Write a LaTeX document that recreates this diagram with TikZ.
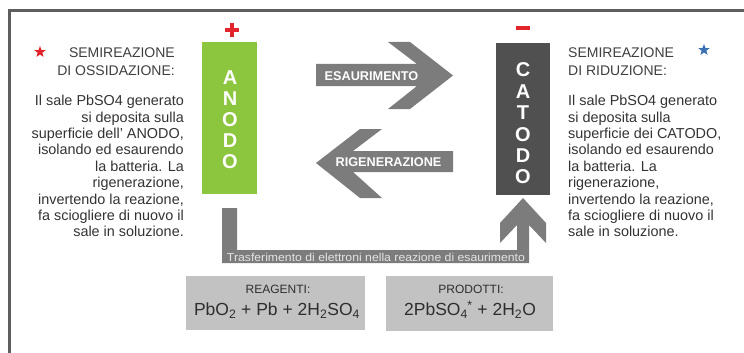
\documentclass[tikz,border=0pt]{standalone}
\usepackage{fontspec}
\usepackage{graphicx}
\setmainfont{Liberation Sans}
\usetikzlibrary{shapes.geometric}
\definecolor{anodegreen}{HTML}{8CC63F}
\definecolor{catodegray}{HTML}{505050}
\definecolor{arrowgray}{HTML}{7C7C7C}
\definecolor{boxgray}{HTML}{C2C2C2}
\definecolor{textgray}{HTML}{333333}
\definecolor{headgray}{HTML}{3F3F3F}
\definecolor{boxtext}{HTML}{2E2E2E}
\definecolor{signred}{HTML}{E2252B}
\definecolor{starblue}{HTML}{3B70B2}
\definecolor{framegray}{HTML}{5E5E5E}
\definecolor{bartext}{HTML}{E4E4E4}
\begin{document}
\begin{tikzpicture}[x=1pt,y=-1pt,
  body/.style={inner sep=0pt, text=textgray, font=\fontsize{14.4}{16.4}\selectfont},
  head/.style={inner sep=0pt, text=headgray, font=\fontsize{14}{18}\selectfont},
  elec/.style={inner sep=0pt, text=white, font=\fontsize{20}{21}\selectfont\bfseries, align=center},
  arrowlabel/.style={inner sep=0pt, text=white, font=\fontsize{12.7}{14}\selectfont\bfseries},
  bigarrow/.style={fill=arrowgray},
  chembox/.style={fill=boxgray, inner sep=0pt},
  boxlabel/.style={inner sep=0pt, text=boxtext, font=\fontsize{12}{14}\selectfont},
  formula/.style={inner sep=0pt, text=boxtext, font=\fontsize{17.5}{20}\selectfont},
  starmark/.style={star, star points=5, star point ratio=2.4, inner sep=0pt, minimum size=12pt}
]
\useasboundingbox (0,0) rectangle (744,353);
\fill[white] (0,0) rectangle (744,353);
% frame
\draw[framegray, line width=3pt] (9.5,353) -- (9.5,11) -- (744,11);

% electrodes
\node[fill=anodegreen, minimum width=55pt, minimum height=152pt, inner sep=0pt] (anode) at (229.5,118) {};
\node[fill=catodegray, minimum width=54pt, minimum height=152pt, inner sep=0pt] (catode) at (523,119) {};
\node[elec] (anodetxt) at (230,120) {A\\N\\O\\D\\O};
\node[elec, font=\fontsize{20}{21.4}\selectfont\bfseries] (catodetxt) at (523,123.5) {C\\A\\T\\O\\D\\O};

% signs
\fill[signred] (225,28) rectangle (239,32);
\fill[signred] (230,23) rectangle (234,37);
\fill[signred] (516,26.5) rectangle (530,30);

% big arrows
\fill[bigarrow] (316,64) -- (417,64) -- (388,42) -- (410,42) -- (453,75.5) -- (410,109) -- (388,109) -- (417,86) -- (316,86) -- cycle;
\node[arrowlabel] (esa) at (371.5,76) {ESAURIMENTO};
\fill[bigarrow] (453,151) -- (453,172) -- (353,172) -- (382,198) -- (360,198) -- (316,163) -- (360,129) -- (382,129) -- (353,151) -- cycle;
\node[arrowlabel] (rig) at (388.5,162) {RIGENERAZIONE};

% connector
\fill[bigarrow] (222,208) -- (237,208) -- (237,250) -- (517,250) -- (517,225) -- (500,243) -- (500,223) -- (523,198) -- (546,223) -- (546,243) -- (529,225) -- (529,263) -- (222,263) -- cycle;
\node[inner sep=0pt, text=bartext] (transfer) at (376,257) {\resizebox{298pt}{8.3pt}{Trasferimento di elettroni nella reazione di esaurimento}};

% chemistry boxes
\node[chembox, minimum width=179pt, minimum height=54pt] (reag) at (275.5,303) {};
\node[chembox, minimum width=167pt, minimum height=55pt] (prod) at (469.5,303.5) {};
\node[boxlabel, anchor=base] (reaglab) at (278,293.3) {REAGENTI:};
\node[formula, anchor=base] (reagf) at (277,315.5) {PbO\textsubscript{2} + Pb + 2H\textsubscript{2}SO\textsubscript{4}};
\node[boxlabel, anchor=base] (prodlab) at (471,293.3) {PRODOTTI:};
\node[formula, anchor=base] (prodf) at (470,315.5) {2PbSO\textsubscript{4}\kern-0.5pt\textsuperscript{*} + 2H\textsubscript{2}O};

% stars
\node[starmark, fill=signred] (redstar) at (40,52) {};
\node[starmark, fill=starblue] (bluestar) at (704,50) {};

% left column
\node[head, anchor=north east, align=right] (lhead) at (175,48) {SEMIREAZIONE\\DI OSSIDAZIONE:};
\node[body, anchor=north east, align=right] (ltext) at (184,95) {Il sale PbSO4 generato\\si deposita sulla\\superficie dell' ANODO,\\isolando ed esaurendo\\la batteria. La\\rigenerazione,\\invertendo la reazione,\\fa sciogliere di nuovo il\\sale in soluzione.};

% right column
\node[head, anchor=north west, align=left] (rhead) at (568,48) {SEMIREAZIONE\\DI RIDUZIONE:};
\node[body, anchor=north west, align=left] (rtext) at (568,95) {Il sale PbSO4 generato\\si deposita sulla\\superficie dei CATODO,\\isolando ed esaurendo\\la batteria. La\\rigenerazione,\\invertendo la reazione,\\fa sciogliere di nuovo il\\sale in soluzione.};
\end{tikzpicture}
\end{document}
